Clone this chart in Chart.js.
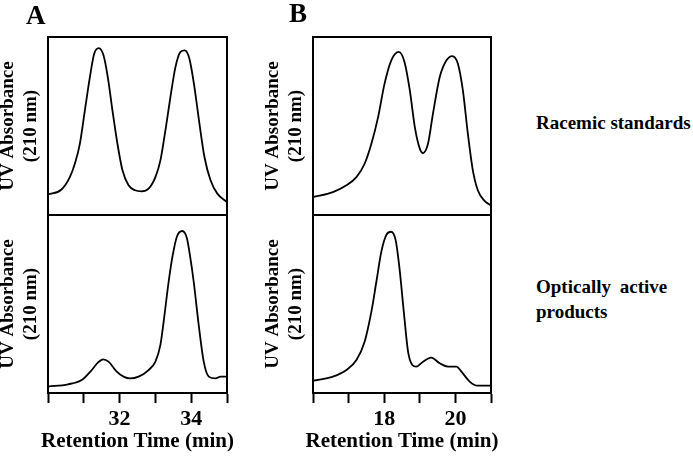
<!DOCTYPE html>
<html>
<head>
<meta charset="utf-8">
<script src="https://cdn.jsdelivr.net/npm/chart.js@4"></script>
<style>
  body { margin: 0; background: #fff; }
  #wrap { position: relative; width: 693px; height: 457px; overflow: hidden; font-family: "Liberation Serif", "Times New Roman", serif; font-weight: bold; color: #000; }
  canvas { position: absolute; }
  .lbl { position: absolute; white-space: nowrap; }
  .xt { position: absolute; width: 240px; text-align: center; font-size: 21px; line-height: 22px; top: 429px; white-space: nowrap; }
</style>
</head>
<body>
<div id="wrap">
  <canvas id="aTop" width="240" height="230" style="left:0;top:0"></canvas>
  <canvas id="aBot" width="240" height="257" style="left:0;top:200px"></canvas>
  <canvas id="bTop" width="239" height="230" style="left:265px;top:0"></canvas>
  <canvas id="bBot" width="239" height="257" style="left:265px;top:200px"></canvas>
  <div class="lbl" style="left:26px;top:2px;font-size:27px;line-height:27px">A</div>
  <div class="lbl" style="left:289px;top:0;font-size:27px;line-height:27px">B</div>
  <div class="xt" style="left:17.5px">Retention Time (min)</div>
  <div class="xt" style="left:282px">Retention Time (min)</div>
  <div class="lbl" style="left:536px;top:113px;font-size:19px;line-height:19px">Racemic standards</div>
  <div class="lbl" style="left:536px;top:274px;font-size:19px;line-height:25px"><span style="word-spacing:4px">Optically active</span><br>products</div>
</div>
<script>
// --- DATA (retention time in min, absorbance in arbitrary units 0-100) ---
const timeA_racemic = [30.0, 30.37, 30.61, 30.75, 30.89, 31.03, 31.17, 31.29, 31.42, 31.55, 31.67, 31.8, 31.94, 32.08, 32.25, 32.43, 32.62,
  32.81, 33.0, 33.14, 33.28, 33.42, 33.56, 33.7, 33.82, 33.95, 34.09, 34.23, 34.37, 34.54, 34.73, 34.96, 35.0];
const absA_racemic = [11.6, 14.2, 21.3, 28.8, 40, 58.8, 77.5, 90.6, 93.8, 89.7, 77.5, 58.8, 40, 25.1, 16.7, 13.9, 13.3,
  14.8, 21.3, 30.7, 47.6, 66.3, 83.1, 91.6, 92.5, 87.8, 71.9, 51.3, 32.6, 19.5, 12, 7.9, 7.3];

const timeA_active = [30.0, 30.56, 30.94, 31.22, 31.4, 31.54, 31.69, 31.92, 32.11, 32.29, 32.53, 32.81, 33.0, 33.14, 33.23, 33.37,
  33.48, 33.6, 33.75, 33.88, 33.96, 34.07, 34.21, 34.35, 34.49, 34.68, 34.82, 35.0];
const absA_active = [3.6, 4.9, 7.3, 12.9, 17.2, 18.9, 17.6, 12, 9.2, 8.2, 9.2, 12.9, 17.6, 27, 40, 62.5,
  77, 87.8, 91, 87, 78, 62.5, 38.2, 17.6, 9.2, 8.2, 9.2, 9.2];

const timeB_racemic = [16.0, 16.56, 16.94, 17.22, 17.45, 17.64, 17.83, 18.01, 18.2, 18.41, 18.57, 18.72, 18.86, 19.0, 19.09,
  19.23, 19.37, 19.56, 19.75, 19.91, 20.07, 20.21, 20.35, 20.49, 20.63, 20.82, 21.0];
const absB_racemic = [10.1, 12.9, 16.7, 21.3, 28.8, 40, 55.1, 73.8, 86.9, 91.6, 86, 70, 49.4, 37.3, 34.8,
  40, 56.9, 77.5, 86.9, 89.3, 85, 70, 45.7, 25.1, 13.9, 7.9, 5.4];

const timeB_active = [16.0, 16.56, 16.94, 17.22, 17.45, 17.64, 17.78, 17.92, 18.06, 18.19, 18.32, 18.43, 18.55, 18.67, 18.79, 18.9,
  19.09, 19.32, 19.56, 19.79, 20.03, 20.17, 20.4, 20.63, 21.0];
const absB_active = [6.9, 9.2, 12.9, 18.5, 28.8, 45.7, 62.5, 79.4, 88.8, 90.6, 86, 70, 45.7, 23.2, 15.7, 14.8,
  17.6, 19.9, 16.7, 14.8, 14.8, 12, 6.4, 4.1, 4.1];

const rangeA = [30, 35];
const rangeB = [16, 21];
const tickLabelsA = [32, 34];
const tickLabelsB = [18, 20];

const Y_TITLE = ['UV Absorbance', '(210 nm)'];
const FONT = 'Liberation Serif';

// box round the plot area
const framePlugin = {
  id: 'frame',
  afterDatasetsDraw(chart) {
    const { ctx, chartArea: a } = chart;
    ctx.save();
    ctx.strokeStyle = '#000';
    ctx.lineWidth = 2;
    ctx.strokeRect(a.left, a.top, a.right - a.left, a.bottom - a.top);
    ctx.restore();
  }
};

function makePanel(id, times, values, range, tickLabels, isBottom) {
  const xScale = {
    type: 'linear', min: range[0], max: range[1],
    display: isBottom
  };
  if (isBottom) {
    Object.assign(xScale, {
      ticks: {
        stepSize: 1, autoSkip: false, maxRotation: 0, color: '#000', padding: 3,
        font: { family: FONT, size: 22, weight: 'bold' },
        callback: v => tickLabels.includes(v) ? String(v) : ''
      },
      grid: { display: true, drawOnChartArea: false, drawTicks: true, tickLength: 10, tickWidth: 2, tickColor: '#000' },
      border: { display: true, width: 2, color: '#000' },
      afterFit(s) { s.height = 64; }
    });
  }

  return new Chart(document.getElementById(id), {
    type: 'line',
    data: {
      datasets: [{
        data: times.map((t, i) => ({ x: t, y: values[i] })),
        borderColor: '#000',
        borderWidth: 1.8,
        pointRadius: 0,
        cubicInterpolationMode: 'monotone',
        fill: false
      }]
    },
    options: {
      responsive: false,
      animation: false,
      events: [],
      layout: { padding: isBottom ? { top: 15, right: 13, bottom: 0, left: 0 } : { top: 37, right: 13, bottom: 15, left: 0 } },
      plugins: { legend: { display: false }, tooltip: { enabled: false } },
      scales: {
        x: xScale,
        y: {
          min: 0, max: 100,
          ticks: { display: false },
          grid: { display: false, drawTicks: false },
          border: { display: false },
          title: {
            display: true, text: Y_TITLE, color: '#000',
            font: { family: FONT, size: 19, weight: 'bold' },
            padding: { top: -3, bottom: 0 }
          },
          afterFit(s) { s.width = 48; }
        }
      }
    },
    plugins: [framePlugin]
  });
}

makePanel('aTop', timeA_racemic, absA_racemic, rangeA, tickLabelsA, false);
makePanel('aBot', timeA_active, absA_active, rangeA, tickLabelsA, true);
makePanel('bTop', timeB_racemic, absB_racemic, rangeB, tickLabelsB, false);
makePanel('bBot', timeB_active, absB_active, rangeB, tickLabelsB, true);
</script>
</body>
</html>
